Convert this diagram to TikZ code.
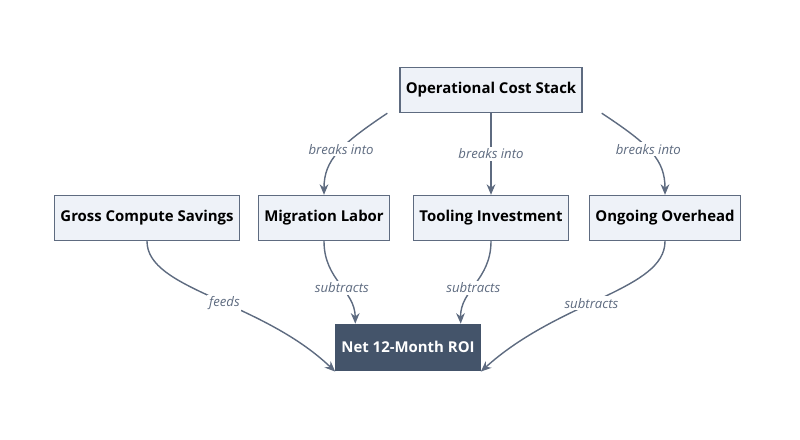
\documentclass[tikz,border=0pt]{standalone}
\usepackage{fontspec}
\setmainfont{Open Sans}
\usetikzlibrary{arrows.meta,positioning}
\definecolor{edgecol}{HTML}{5E6B80}
\definecolor{boxfill}{HTML}{EEF2F8}
\definecolor{darkfill}{HTML}{44546A}
\tikzset{
  box/.style={draw=edgecol, fill=boxfill, line width=0.8pt, minimum height=0.9cm, font=\bfseries\fontsize{8.5}{10}\selectfont},
  dark/.style={draw=darkfill, fill=darkfill, text=white, minimum height=0.92cm, minimum width=2.52cm, font=\bfseries\fontsize{8.5}{10}\selectfont},
  link/.style={draw=edgecol, line width=0.8pt, -{Stealth[length=6pt,width=5pt]}},
  lbl/.style={fill=white, inner sep=1pt, text=edgecol, font=\itshape\fontsize{7.5}{9}\selectfont}
}
\begin{document}
\begin{tikzpicture}[x=0.02cm, y=-0.02cm]
	\useasboundingbox (0,0) rectangle (800,439);
	\node [box, minimum width=3.1cm] (stack) at (491,90) {Operational Cost Stack};
	\node [box, minimum width=3.18cm] (gross) at (147,218) {Gross Compute Savings};
	\node [box, minimum width=2.34cm] (labor) at (324,218) {Migration Labor};
	\node [box, minimum width=2.68cm] (tool) at (491,218) {Tooling Investment};
	\node [box, minimum width=2.6cm] (over) at (665,218) {Ongoing Overhead};
	\node [dark] (roi) at (408,347) {Net 12-Month ROI};
	% breakdown of the cost stack
	\draw [link] ([xshift=-59pt]stack.south) .. controls (340,145) and (324,160) .. (labor.north) node [lbl, pos=0.45] {breaks into};
	\draw [link] (stack.south) -- (tool.north) node [lbl, midway] {breaks into};
	\draw [link] ([xshift=63pt]stack.south) .. controls (650,145) and (665,160) .. (over.north) node [lbl, pos=0.45] {breaks into};
	% everything ends in the ROI
	\draw [link] (gross.south) .. controls (147,290) and (260,300) .. ([yshift=-14pt]roi.west) node [lbl, pos=0.55] {feeds};
	\draw [link] (labor.south) .. controls (324,280) and (355,290) .. ([xshift=-30pt]roi.north) node [lbl, pos=0.55] {subtracts};
	\draw [link] (tool.south) .. controls (491,280) and (460,290) .. ([xshift=30pt]roi.north) node [lbl, pos=0.55] {subtracts};
	\draw [link] (over.south) .. controls (665,290) and (560,300) .. ([yshift=-14pt]roi.east) node [lbl, pos=0.55] {subtracts};
\end{tikzpicture}
\end{document}
